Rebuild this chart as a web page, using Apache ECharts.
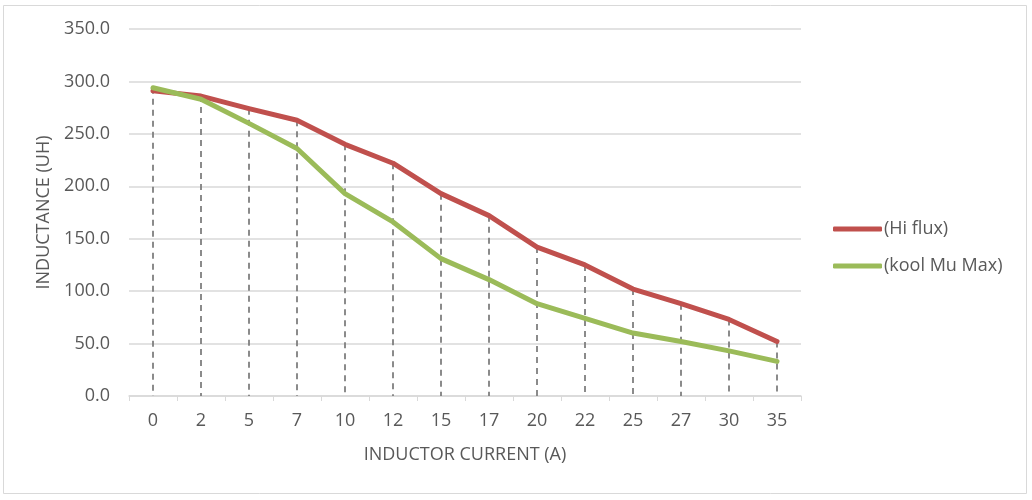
<!DOCTYPE html>
<html>
<head>
<meta charset="utf-8">
<script src="https://cdn.jsdelivr.net/npm/echarts@6/dist/echarts.min.js"></script>
<style>html,body{margin:0;padding:0;background:#fff}#c{width:1032px;height:500px}</style>
</head>
<body>
<div id="c"></div>
<script>
const categories = ['0','2','5','7','10','12','15','17','20','22','25','27','30','35'];
const hiFlux = [291, 286, 274, 263, 240, 222, 193, 172, 142, 125, 102, 88, 73, 52];
const koolMuMax = [294, 283, 260, 236, 193, 166, 131, 111, 88, 74, 60, 52, 43, 33];
const seriesNames = ['(Hi flux)', '(kool Mu Max)'];
const yTicks = { min: 0, max: 350, interval: 50 };

const FONT = "'Open Sans', 'Noto Sans', sans-serif";
const FS = 18;
const TXT = '#595959';

const dropLines = categories.map((c, i) => [
  { coord: [c, Math.max(hiFlux[i], koolMuMax[i])] },
  { coord: [c, 0] }
]);

const chart = echarts.init(document.getElementById('c'));
chart.setOption({
  animation: false,
  backgroundColor: '#fff',
  graphic: [{
    type: 'rect', shape: { x: 3.5, y: 5.5, width: 1023, height: 488 },
    style: { fill: 'none', stroke: '#d9d9d9', lineWidth: 1 }, silent: true, z: -1
  }],
  grid: { left: 129, right: 231, top: 29, bottom: 104 },
  legend: {
    orient: 'vertical', left: 828, top: 215,
    itemWidth: 49, itemHeight: 5, itemGap: 19,
    icon: 'roundRect',
    textStyle: { color: TXT, fontFamily: FONT, fontSize: FS, padding: [0, 0, 0, -3] },
    data: seriesNames
  },
  xAxis: {
    type: 'category', data: categories, boundaryGap: true,
    name: 'INDUCTOR CURRENT (A)', nameLocation: 'middle', nameGap: 50,
    nameTextStyle: { color: TXT, fontFamily: FONT, fontSize: FS },
    axisLine: { lineStyle: { color: '#d9d9d9', width: 1.5 } },
    axisTick: { show: true, alignWithLabel: false, length: 5, lineStyle: { color: '#d9d9d9' } },
    axisLabel: { color: TXT, fontFamily: FONT, fontSize: FS, margin: 16 }
  },
  yAxis: {
    type: 'value', min: yTicks.min, max: yTicks.max, interval: yTicks.interval,
    name: 'INDUCTANCE (UH)', nameLocation: 'middle', nameGap: 76, nameRotate: 90,
    nameTextStyle: { color: TXT, fontFamily: FONT, fontSize: FS },
    axisLine: { show: false }, axisTick: { show: false },
    axisLabel: { color: TXT, fontFamily: FONT, fontSize: FS, margin: 19,
      formatter: v => v.toFixed(1) },
    splitLine: { lineStyle: { color: '#d9d9d9', width: 1.5 } }
  },
  series: [
    {
      name: seriesNames[0], type: 'line', data: hiFlux, showSymbol: false, symbol: 'none',
      itemStyle: { color: '#c0504d' },
      lineStyle: { color: '#c0504d', width: 5, cap: 'round', join: 'round' },
      z: 3,
      markLine: {
        silent: true, symbol: ['none', 'none'], label: { show: false },
        lineStyle: { color: '#7f7f7f', type: [6, 5], width: 1.8 },
        data: dropLines, z: 1
      }
    },
    {
      name: seriesNames[1], type: 'line', data: koolMuMax, showSymbol: false, symbol: 'none',
      itemStyle: { color: '#9bbb59' },
      lineStyle: { color: '#9bbb59', width: 5, cap: 'round', join: 'round' },
      z: 4
    }
  ]
});
</script>
</body>
</html>
